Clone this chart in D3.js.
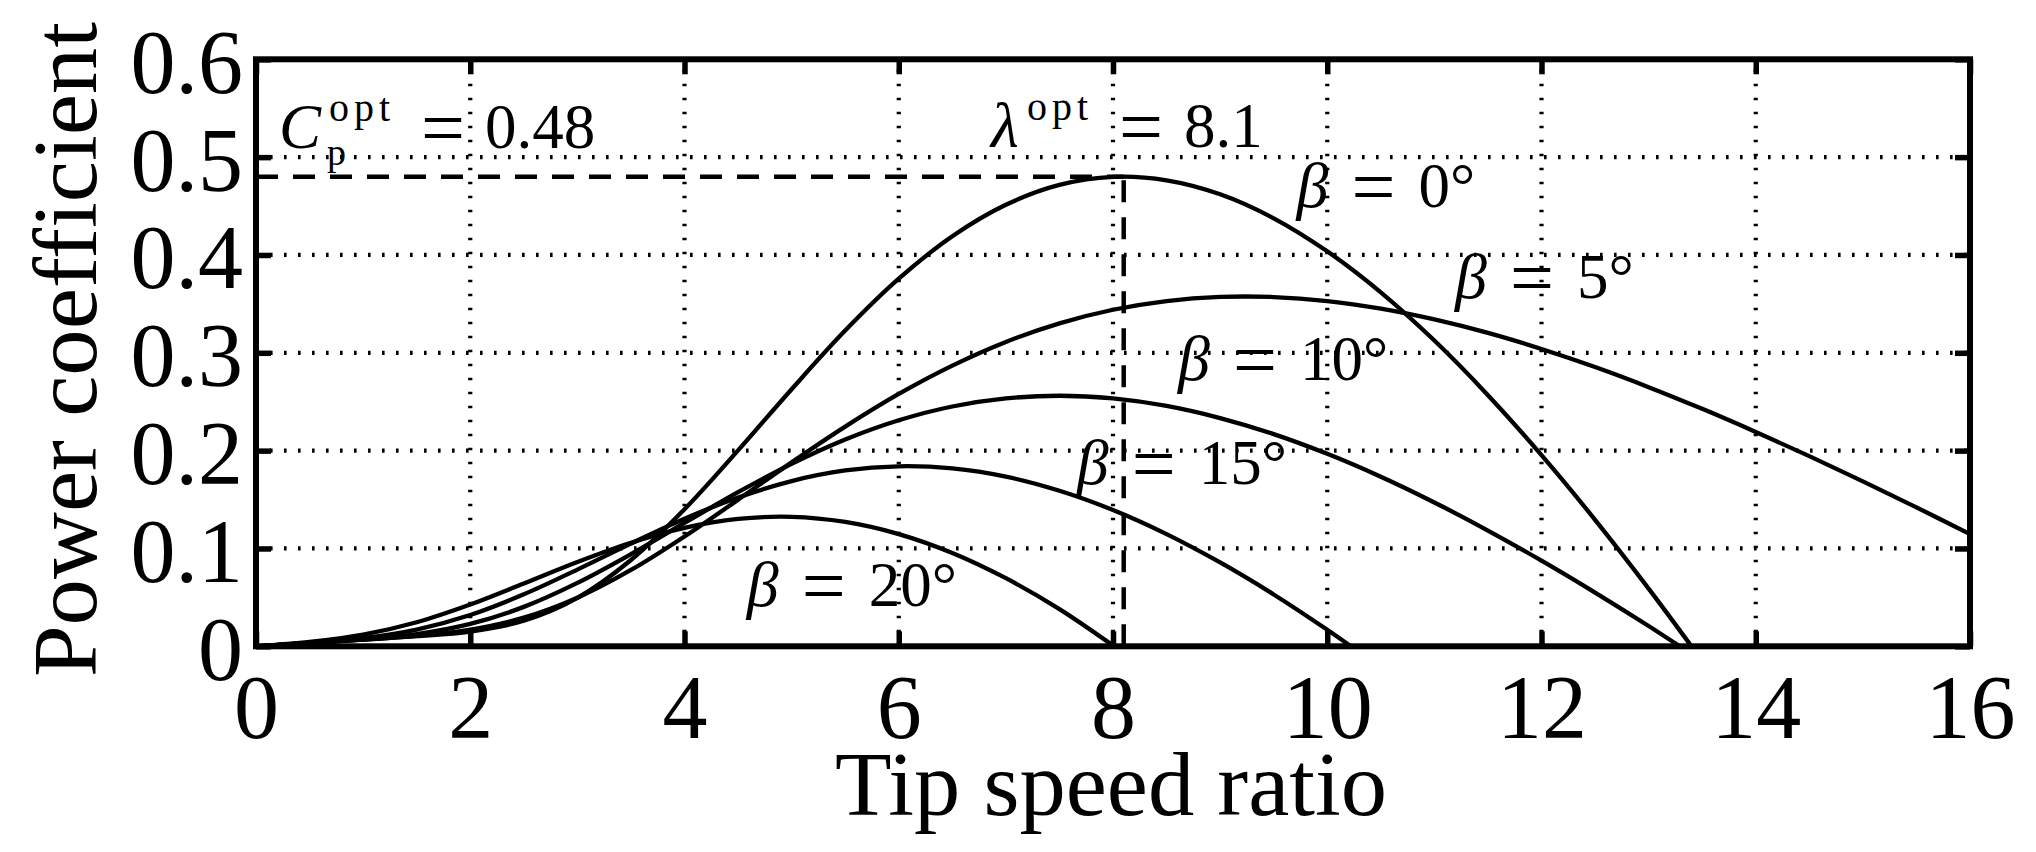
<!DOCTYPE html>
<html>
<head>
<meta charset="utf-8">
<script src="https://cdn.jsdelivr.net/npm/d3@7"></script>
<style>
  html, body { margin: 0; padding: 0; background: #ffffff; }
  svg { display: block; }
  text, tspan { font-family: "Liberation Serif", "Times New Roman", serif; fill: #000; }
</style>
</head>
<body>
<svg id="chart" width="2036" height="852"></svg>
<script>
// ---------------- data ----------------
const xTicks = [0, 2, 4, 6, 8, 10, 12, 14, 16];
const xTickLabels = ["0", "2", "4", "6", "8", "10", "12", "14", "16"];
const yTicks = [0, 0.1, 0.2, 0.3, 0.4, 0.5, 0.6];
const yTickLabels = ["0", "0.1", "0.2", "0.3", "0.4", "0.5", "0.6"];

const xTitle = "Tip speed ratio";
const yTitle = "Power coefficient";

const pitchAngles = [0, 5, 10, 15, 20];

// beta = 0 deg
const tsrB0 = [0, 0.5, 1, 1.5, 2, 2.5, 3, 3.5, 4, 4.5, 5, 5.5, 6, 6.5, 7, 7.5, 8, 8.5, 9, 9.5, 10, 10.5, 11, 11.5, 12, 12.5, 13, 13.4];
const cpB0  = [0, 0.0034, 0.0068, 0.0103, 0.0151, 0.0261, 0.0495, 0.0882, 0.1401, 0.2003, 0.2628, 0.3227, 0.3757, 0.4191, 0.4513, 0.4716, 0.4798, 0.4763, 0.4620, 0.4375, 0.4037, 0.3618, 0.3125, 0.2567, 0.1954, 0.1293, 0.0590, 0];

// beta = 5 deg
const tsrB5 = [0, 0.5, 1, 1.5, 2, 2.5, 3, 3.5, 4, 4.5, 5, 5.5, 6, 6.5, 7, 7.5, 8, 8.5, 9, 9.5, 10, 10.5, 11, 11.5, 12, 12.5, 13, 13.5, 14, 14.5, 15, 15.5, 16];
const cpB5  = [0, 0.0034, 0.0068, 0.0106, 0.0170, 0.0293, 0.0497, 0.0780, 0.1123, 0.1499, 0.1880, 0.2245, 0.2579, 0.2869, 0.3111, 0.3301, 0.3440, 0.3529, 0.3571, 0.3570, 0.3529, 0.3451, 0.3341, 0.3203, 0.3039, 0.2854, 0.2649, 0.2427, 0.2191, 0.1944, 0.1686, 0.1420, 0.1147];

// beta = 10 deg
const tsrB10 = [0, 0.5, 1, 1.5, 2, 2.5, 3, 3.5, 4, 4.5, 5, 5.5, 6, 6.5, 7, 7.5, 8, 8.5, 9, 9.5, 10, 10.5, 11, 11.5, 12, 12.5, 13, 13.29];
const cpB10  = [0, 0.0034, 0.0070, 0.0125, 0.0229, 0.0403, 0.0648, 0.0942, 0.1261, 0.1575, 0.1864, 0.2113, 0.2310, 0.2451, 0.2534, 0.2561, 0.2534, 0.2457, 0.2333, 0.2169, 0.1967, 0.1733, 0.1470, 0.1183, 0.0875, 0.0549, 0.0207, 0];

// beta = 15 deg
const tsrB15 = [0, 0.5, 1, 1.5, 2, 2.5, 3, 3.5, 4, 4.5, 5, 5.5, 6, 6.5, 7, 7.5, 8, 8.5, 9, 9.5, 10, 10.22];
const cpB15  = [0, 0.0035, 0.0083, 0.0171, 0.0320, 0.0531, 0.0784, 0.1050, 0.1304, 0.1521, 0.1689, 0.1797, 0.1840, 0.1818, 0.1734, 0.1590, 0.1393, 0.1147, 0.0857, 0.0530, 0.0169, 0];

// beta = 20 deg
const tsrB20 = [0, 0.5, 1, 1.5, 2, 2.5, 3, 3.5, 4, 4.5, 5, 5.5, 6, 6.5, 7, 7.5, 8.01];
const cpB20  = [0, 0.0044, 0.0119, 0.0246, 0.0427, 0.0642, 0.0862, 0.1059, 0.1211, 0.1302, 0.1323, 0.1271, 0.1147, 0.0954, 0.0696, 0.0380, 0];

// optimum point
const cpOpt = 0.48;
const tsrOpt = 8.1;
const cpOptText = "0.48";
const tsrOptText = "8.1";

// ---------------- layout ----------------
const FONT = '"Liberation Serif", "Times New Roman", serif';
const W = 2036, H = 852;
const plot = { left: 256, right: 1970, top: 59.3, bottom: 646.3 };

const svg = d3.select("#chart");
svg.append("rect").attr("width", W).attr("height", H).attr("fill", "#fff");

const x = d3.scaleLinear().domain([0, 16]).range([plot.left, plot.right]);
const y = d3.scaleLinear().domain([0, 0.6]).range([plot.bottom, plot.top]);

svg.append("defs").append("clipPath").attr("id", "plotClip")
  .append("rect")
  .attr("x", plot.left).attr("y", plot.top)
  .attr("width", plot.right - plot.left).attr("height", plot.bottom - plot.top);

// ---------------- grid ----------------
const grid = svg.append("g").attr("class", "grid");
grid.selectAll("line.vg")
  .data(xTicks.filter(t => t > 0 && t < 16))
  .join("line")
  .attr("class", "vg")
  .attr("x1", d => x(d)).attr("x2", d => x(d))
  .attr("y1", y(0)).attr("y2", y(0.6))
  .attr("stroke", "#000").attr("stroke-width", 4.2)
  .attr("stroke-dasharray", "2.6,11.4");
grid.selectAll("line.hg")
  .data(yTicks.filter(t => t > 0 && t < 0.6))
  .join("line")
  .attr("class", "hg")
  .attr("x1", x(0)).attr("x2", x(16))
  .attr("y1", d => y(d)).attr("y2", d => y(d))
  .attr("stroke", "#000").attr("stroke-width", 4.2)
  .attr("stroke-dasharray", "2.6,11.4");

// ---------------- curves ----------------
const series = [
  { beta: pitchAngles[0], tsr: tsrB0, cp: cpB0 },
  { beta: pitchAngles[1], tsr: tsrB5, cp: cpB5 },
  { beta: pitchAngles[2], tsr: tsrB10, cp: cpB10 },
  { beta: pitchAngles[3], tsr: tsrB15, cp: cpB15 },
  { beta: pitchAngles[4], tsr: tsrB20, cp: cpB20 }
];

const line = d3.line()
  .x(d => x(d[0]))
  .y(d => y(d[1]))
  .curve(d3.curveCatmullRom.alpha(0.5));

svg.append("g").attr("clip-path", "url(#plotClip)")
  .selectAll("path.curve")
  .data(series)
  .join("path")
  .attr("class", "curve")
  .attr("d", s => line(s.tsr.map((t, i) => [t, s.cp[i]])))
  .attr("fill", "none")
  .attr("stroke", "#000")
  .attr("stroke-width", 4.3)
  .attr("stroke-linejoin", "round");

// ---------------- optimum dashed lines ----------------
const dashG = svg.append("g").attr("clip-path", "url(#plotClip)");
dashG.append("line")
  .attr("x1", x(0)).attr("x2", x(tsrOpt))
  .attr("y1", y(cpOpt)).attr("y2", y(cpOpt))
  .attr("stroke", "#000").attr("stroke-width", 4.5)
  .attr("stroke-dasharray", "22,15");
dashG.append("line")
  .attr("x1", x(tsrOpt)).attr("x2", x(tsrOpt))
  .attr("y1", y(0)).attr("y2", y(cpOpt))
  .attr("stroke", "#000").attr("stroke-width", 4.5)
  .attr("stroke-dasharray", "22,15");

// ---------------- axes ----------------
const tickLen = 15;
const axB = svg.append("g").attr("transform", `translate(0,${plot.bottom})`)
  .call(d3.axisBottom(x).tickValues(xTicks).tickSize(-tickLen).tickSizeOuter(0).tickPadding(0)
    .tickFormat((d, i) => xTickLabels[i]));
axB.selectAll("text").attr("dy", null).attr("y", 92)
  .attr("font-family", FONT).style("font-size", "90px");

const axL = svg.append("g").attr("transform", `translate(${plot.left},0)`)
  .call(d3.axisLeft(y).tickValues(yTicks).tickSize(-tickLen).tickSizeOuter(0).tickPadding(0)
    .tickFormat((d, i) => yTickLabels[i]));
axL.selectAll("text").attr("dy", null).attr("x", -13).attr("y", 33)
  .attr("font-family", FONT).style("font-size", "90px");

const axT = svg.append("g").attr("transform", `translate(0,${plot.top})`)
  .call(d3.axisTop(x).tickValues(xTicks).tickSize(-tickLen).tickSizeOuter(0).tickFormat(""));
const axR = svg.append("g").attr("transform", `translate(${plot.right},0)`)
  .call(d3.axisRight(y).tickValues(yTicks).tickSize(-tickLen).tickSizeOuter(0).tickFormat(""));

[axB, axL, axT, axR].forEach(a => {
  a.select(".domain").remove();
  a.attr("font-family", FONT).attr("font-size", null).attr("color", "#000");
  a.selectAll(".tick line").attr("stroke", "#000").attr("stroke-width", 5.5);
});

svg.append("rect")
  .attr("x", plot.left).attr("y", plot.top)
  .attr("width", plot.right - plot.left).attr("height", plot.bottom - plot.top)
  .attr("fill", "none").attr("stroke", "#000").attr("stroke-width", 6)
  .attr("stroke-linejoin", "miter");

// ---------------- axis titles ----------------
svg.append("text")
  .attr("x", (plot.left + plot.right) / 2 - 2).attr("y", 815)
  .attr("text-anchor", "middle")
  .attr("font-family", FONT)
  .attr("textLength", 552).attr("lengthAdjust", "spacingAndGlyphs")
  .style("font-size", "90px")
  .text(xTitle);

svg.append("text")
  .attr("transform", "translate(96,349.5) rotate(-90)")
  .attr("text-anchor", "middle")
  .attr("font-family", FONT)
  .attr("textLength", 655).attr("lengthAdjust", "spacingAndGlyphs")
  .style("font-size", "91px")
  .text(yTitle);

// ---------------- annotations ----------------
// anchor positions (data coordinates) for the pitch-angle labels
const betaLabelAnchor = [
  { tsr: 9.74, cp: 0.449 },
  { tsr: 11.22, cp: 0.356 },
  { tsr: 8.635, cp: 0.272 },
  { tsr: 7.69, cp: 0.166 },
  { tsr: 4.61, cp: 0.041 }
];

const ann = svg.append("g").attr("class", "annotations").attr("font-family", FONT);

function piece(t, str, px, py, size, italic, spacing) {
  const s = t.append("tspan").attr("y", py).attr("font-family", FONT)
    .style("font-size", size + "px").text(str);
  if (px !== null) s.attr("x", px);
  if (italic) s.style("font-style", "italic");
  if (spacing) s.style("letter-spacing", spacing + "px");
  return s;
}

pitchAngles.forEach((b, i) => {
  const S = x(betaLabelAnchor[i].tsr);
  const B = y(betaLabelAnchor[i].cp);
  const t = ann.append("text");
  piece(t, "β", S - 3, B, 64, true);
  piece(t, "=", S + 52, B + 6, 78, false);
  piece(t, String(b), S + 119, B, 63, false);
  piece(t, "°", null, B, 63, false);
});

// C_p^opt = 0.48
{
  const B = 148;
  const t = ann.append("text");
  piece(t, "C", 279, B, 63, true);
  piece(t, "opt", 329, 121, 40, false, 5);
  piece(t, "p", 327, 165, 38, false);
  piece(t, "=", 421, B + 6, 78, false);
  piece(t, cpOptText, 485, B, 63, false);
}

// lambda^opt = 8.1
{
  const B = 147;
  const t = ann.append("text");
  piece(t, "λ", 991, B, 64, true);
  piece(t, "opt", 1027, 120, 40, false, 5);
  piece(t, "=", 1119, B + 6, 78, false);
  piece(t, tsrOptText, 1184, B, 63, false);
}
</script>
</body>
</html>
